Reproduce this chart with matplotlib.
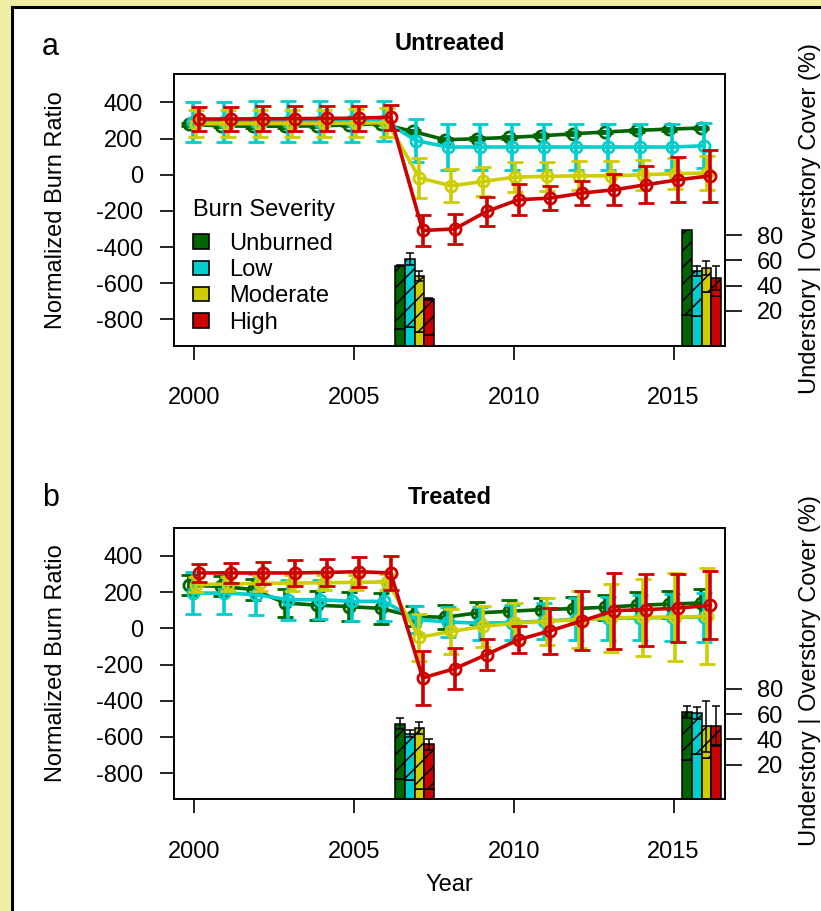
import numpy as np
import matplotlib
matplotlib.use("Agg")
import matplotlib.pyplot as plt
from matplotlib.patches import Patch, Rectangle

plt.rcParams['font.family'] = ['Liberation Sans', 'DejaVu Sans']
plt.rcParams['axes.unicode_minus'] = False
plt.rcParams['hatch.linewidth'] = 1.1

# ---- data ----
years = np.arange(2000, 2017)
severity = ['Unburned', 'Low', 'Moderate', 'High']
colors = ['#006400', '#00CDCD', '#CDCD00', '#CD0000']

# Untreated: normalized burn ratio, mean and error
unb_a = [278, 270, 268, 268, 270, 275, 282, 239, 193, 199, 206, 215, 226, 236, 245, 252, 258]
unb_a_err = [8] * 17
low_a = [292, 292, 293, 293, 294, 295, 297, 188, 153, 153, 153, 153, 153, 153, 153, 153, 160]
low_a_err = [112, 112, 112, 112, 112, 112, 113, 120, 128, 125, 125, 125, 125, 125, 125, 125, 125]
mod_a = [282, 282, 283, 283, 284, 285, 288, -18, -61, -37, -13, -9, -6, -6, 0, 6, 9]
mod_a_err = [76, 76, 76, 76, 76, 78, 80, 113, 90, 82, 85, 82, 80, 80, 82, 85, 95]
high_a = [308, 308, 309, 310, 311, 313, 318, -308, -300, -203, -138, -129, -101, -83, -55, -28, -6]
high_a_err = [69, 69, 69, 69, 69, 69, 69, 85, 85, 80, 84, 67, 67, 85, 103, 125, 145]

# Treated
unb_b = [237, 232, 214, 140, 128, 120, 110, 66, 61, 85, 94, 103, 109, 116, 127, 134, 140]
unb_b_err = [55, 55, 58, 75, 80, 80, 85, 55, 66, 60, 62, 62, 65, 70, 72, 75, 80]
low_b = [195, 195, 186, 158, 158, 149, 149, 48, 35, 28, 32, 40, 50, 55, 58, 60, 62]
low_b_err = [117, 117, 115, 110, 108, 108, 110, 74, 82, 92, 95, 100, 115, 120, 125, 130, 135]
mod_b = [241, 245, 248, 250, 252, 254, 256, -50, -17, 11, 29, 39, 48, 57, 61, 61, 66]
mod_b_err = [40, 40, 40, 42, 42, 42, 45, 129, 125, 115, 110, 130, 158, 187, 213, 243, 265]
high_b = [306, 306, 306, 306, 309, 313, 306, -274, -223, -145, -63, -13, 42, 98, 103, 112, 127]
high_b_err = [48, 55, 60, 70, 75, 83, 95, 150, 112, 88, 76, 128, 163, 210, 198, 190, 188]

# Cover bars (%): solid lower part, hatched bar top, error on top
# Untreated, 2007 group / 2016 group
solid_a1 = [6.1, 7.4, 3.4, 0.8]
top_a1 = [55.8, 61.1, 47.6, 29.6]
err_a1 = [0.5, 5.0, 4.0, 1.0]
solid_a2 = [16.7, 16.1, 34.7, 32.1]
top_a2 = [84.1, 51.8, 54.2, 45.8]
err_a2 = [0.0, 4.2, 5.3, 9.5]
# Treated
solid_b1 = [8.3, 7.5, 1.0, 1.0]
top_b1 = [52.4, 44.3, 48.7, 36.0]
err_b1 = [4.5, 2.8, 4.7, 4.2]
solid_b2 = [24.0, 28.7, 25.4, 35.8]
top_b2 = [61.6, 60.8, 50.2, 50.8]
err_b2 = [5.0, 5.0, 20.0, 15.7]

offsets = [-0.15, -0.05, 0.05, 0.15]
group_centers = [2006.9, 2015.88]
bar_w = 0.3
FS = 17

W, H = 821, 911
fig = plt.figure(figsize=(W / 100, H / 100), dpi=100)
fig.patch.set_facecolor('#f3eea6')
fig.add_artist(Rectangle((12 / W, -0.05), 1.2, 1.05 - 7.5 / H, transform=fig.transFigure,
                         facecolor='white', edgecolor='black', lw=2.2, zorder=-5))


def draw_panel(ax, series, errs, bars, title, letter, letter_y, rlab_y):
    for i in range(4):
        ax.errorbar(years + offsets[i], series[i], yerr=errs[i], color=colors[i],
                    lw=2.6, elinewidth=2.6, capsize=6, capthick=2.6,
                    marker='o', ms=8, mfc='none', mew=2, zorder=2 + i)
    ax.set_xlim(1999.37, 2016.61)
    ax.set_ylim(-945, 555)
    ax.set_yticks(range(-800, 401, 200))
    ax.set_xticks([2000, 2005, 2010, 2015])
    ax.tick_params(axis='y', direction='out', length=10, width=1.2, pad=12.5, labelsize=FS)
    ax.tick_params(axis='x', direction='out', length=10, width=1.2, pad=20, labelsize=FS)
    for s in ax.spines.values():
        s.set_linewidth(1.2)
    ax.set_title(title, fontsize=FS, fontweight='bold', pad=17.5)
    ax.set_ylabel('Normalized Burn Ratio', fontsize=FS)
    ax.yaxis.set_label_coords(-0.194, 0.5)

    ax2 = ax.twinx()
    ax2.set_ylim(-7.5, 207.5)
    ax2.set_yticks([20, 40, 60, 80])
    ax2.tick_params(axis='y', direction='out', length=12, width=1.2, pad=11, labelsize=FS)
    for s in ax2.spines.values():
        s.set_linewidth(1.2)
    base = ax2.get_ylim()[0]
    for g, (solid, top, err) in enumerate(bars):
        for j in range(4):
            x = group_centers[g] + (j - 1.5) * bar_w
            ax2.bar(x, solid[j] - base, bottom=base, width=bar_w, color=colors[j],
                    edgecolor='black', lw=1.1)
            ax2.bar(x, top[j] - solid[j], bottom=solid[j], width=bar_w, color=colors[j],
                    edgecolor='black', lw=1.1, hatch='//')
            if err[j] > 0:
                ax2.errorbar(x, top[j], yerr=err[j], fmt='none', ecolor='black',
                             elinewidth=1.1, capsize=2.6, capthick=1.1)
    ax2.set_ylabel('Understory | Overstory Cover (%)', fontsize=FS)
    ax2.yaxis.set_label_coords(1.135, rlab_y)
    fig.text(42 / W, 1 - letter_y / H, letter, fontsize=22, va='baseline', ha='left')
    return ax2


axA = fig.add_axes([174 / W, 1 - 345.7 / H, 551 / W, 271.4 / H])
axB = fig.add_axes([174 / W, 1 - 799.3 / H, 551 / W, 271.4 / H])

draw_panel(axA, [unb_a, low_a, mod_a, high_a], [unb_a_err, low_a_err, mod_a_err, high_a_err],
           [(solid_a1, top_a1, err_a1), (solid_a2, top_a2, err_a2)],
           'Untreated', 'a', 55, 0.467)
draw_panel(axB, [unb_b, low_b, mod_b, high_b], [unb_b_err, low_b_err, mod_b_err, high_b_err],
           [(solid_b1, top_b1, err_b1), (solid_b2, top_b2, err_b2)],
           'Treated', 'b', 506, 0.473)

axB.set_xlabel('Year', fontsize=FS)
axB.xaxis.set_label_coords(0.5, -0.277)

handles = [Patch(facecolor=c, edgecolor='black', lw=1.2, label=l) for c, l in zip(colors, severity)]
leg = axA.legend(handles=handles, title='Burn Severity', loc='upper left',
                 bbox_to_anchor=(0.034, 0.54), frameon=False, fontsize=FS, title_fontsize=FS,
                 handlelength=0.68, handleheight=0.58, handletextpad=0.85,
                 labelspacing=0.18, borderpad=0, borderaxespad=0, alignment='left')
leg._legend_box.sep = 8.5  # extra gap below the legend title
leg.set_zorder(20)

fig.savefig('out.png', dpi=100, facecolor=fig.get_facecolor())
